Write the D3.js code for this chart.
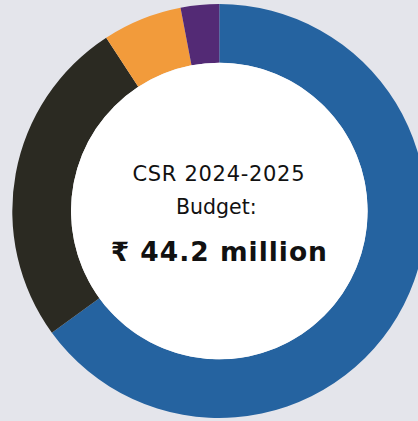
<!DOCTYPE html>
<html>
<head>
<meta charset="utf-8">
<script src="https://cdn.jsdelivr.net/npm/d3@7"></script>
<style>
  html, body { margin: 0; padding: 0; background: #e4e5eb; overflow: hidden; }
  text { font-family: 'DejaVu Sans', sans-serif; fill: #111; }
</style>
</head>
<body>
<script>
// shares of the budget, in percent, clockwise from 12 o'clock
let categories = ['Segment A', 'Segment B', 'Segment C', 'Segment D']
let shares = [65.0, 25.8, 6.2, 3.0]
let colors = ['#2563a0', '#2b2a22', '#f29b3b', '#532a75']
let titleLines = ['CSR 2024-2025', 'Budget:']
let totalLabel = '₹ 44.2 million'

function main () {
  let width = 418
  let height = 421
  let center = {x: 219.3, y: 211}
  let outerR = 207
  let innerR = 148.3

  let svg = d3.select('body').append('svg')
    .attr('width', width)
    .attr('height', height)

  svg.append('rect')
    .attr('width', width)
    .attr('height', height)
    .attr('fill', '#e4e5eb')

  let g = svg.append('g')
    .attr('transform', `translate(${center.x}, ${center.y})`)

  let data = categories.map((c, i) => ({name: c, value: shares[i], color: colors[i]}))
  let pie = d3.pie().sort(null).value(d => d.value)
  let arc = d3.arc().innerRadius(innerR).outerRadius(outerR)

  g.selectAll('path.slice')
    .data(pie(data))
    .enter()
    .append('path')
    .attr('class', 'slice')
    .attr('d', arc)
    .attr('fill', d => d.data.color)

  g.append('circle')
    .attr('r', innerR)
    .attr('fill', '#ffffff')

  g.append('text')
    .attr('text-anchor', 'middle')
    .attr('x', -0.5)
    .attr('y', 181 - center.y)
    .style('font-size', '21px')
    .style('letter-spacing', '0.7px')
    .text(titleLines[0])

  g.append('text')
    .attr('text-anchor', 'middle')
    .attr('x', -3)
    .attr('y', 214.3 - center.y)
    .style('font-size', '20.5px')
    .text(titleLines[1])

  g.append('text')
    .attr('text-anchor', 'middle')
    .attr('x', 0)
    .attr('y', 261 - center.y)
    .style('font-size', '26.5px')
    .style('font-weight', 700)
    .style('letter-spacing', '1px')
    .text(totalLabel)
}

main()
</script>
</body>
</html>
